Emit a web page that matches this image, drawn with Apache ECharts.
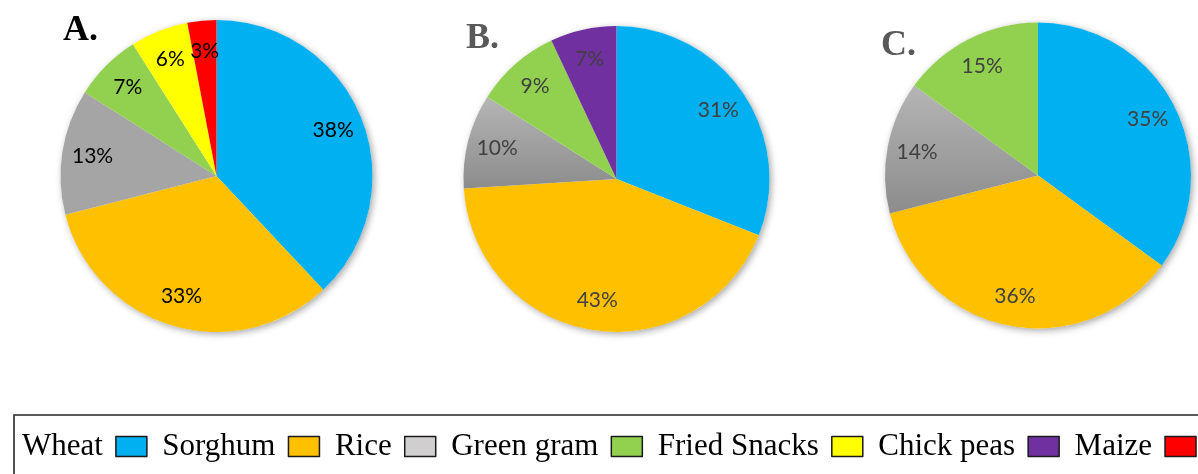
<!DOCTYPE html>
<html>
<head>
<meta charset="utf-8">
<script src="https://cdn.jsdelivr.net/npm/echarts@6/dist/echarts.min.js"></script>
<style>
  html, body { margin: 0; padding: 0; background: #ffffff; }
  #chart { width: 1198px; height: 474px; }
</style>
</head>
<body>
<div id="chart"></div>
<script>
// Legend entries and their swatch colours
const legendNames = ['Wheat', 'Sorghum', 'Rice', 'Green gram', 'Fried Snacks', 'Chick peas', 'Maize'];
const legendColors = ['#00B0F0', '#FFC000', '#D0CECE', '#92D050', '#FFFF00', '#7030A0', '#FF0000'];

// Panel A
const namesA = ['Wheat', 'Sorghum', 'Rice', 'Green gram', 'Fried Snacks', 'Maize'];
const valuesA = [38, 33, 13, 7, 6, 3];

// Panel B
const namesB = ['Wheat', 'Sorghum', 'Rice', 'Green gram', 'Chick peas'];
const valuesB = [31, 43, 10, 9, 7];

// Panel C
const namesC = ['Wheat', 'Sorghum', 'Rice', 'Green gram'];
const valuesC = [35, 36, 14, 15];

const panelTitles = ['A.', 'B.', 'C.'];

// Slice fill colours (the grey slice is a touch darker than its legend swatch)
const sliceColors = {
  'Wheat': '#00B0F0',
  'Sorghum': '#FFC000',
  'Rice': '#A5A5A5',
  'Green gram': '#92D050',
  'Fried Snacks': '#FFFF00',
  'Chick peas': '#7030A0',
  'Maize': '#FF0000'
};

const greyGradient = new echarts.graphic.LinearGradient(0, 0, 0, 1, [
  { offset: 0, color: '#B5B5B5' },
  { offset: 1, color: '#8C8C8C' }
]);

const serifFont = '"Liberation Serif", "Times New Roman", serif';
const labelFont = 'Lato, "Noto Sans", sans-serif';

function pieSeries(center, r, names, values, labelColor, shadedGrey) {
  const items = names.map((n, i) => ({
    name: n,
    value: values[i],
    itemStyle: {
      color: (n === 'Rice' && shadedGrey) ? greyGradient : sliceColors[n]
    }
  }));
  return [
    // soft drop shadow behind the whole disc
    {
      type: 'pie', silent: true, center: center, radius: r,
      startAngle: 90, clockwise: true,
      label: { show: false }, labelLine: { show: false },
      itemStyle: {
        color: '#ffffff',
        shadowBlur: 7, shadowOffsetX: 2, shadowOffsetY: 2,
        shadowColor: 'rgba(0,0,0,0.35)'
      },
      emphasis: { disabled: true },
      tooltip: { show: false },
      data: [{ value: 1, name: '' }]
    },
    // the slices
    {
      type: 'pie', center: center, radius: r,
      startAngle: 90, clockwise: true,
      label: { show: false }, labelLine: { show: false },
      itemStyle: { borderWidth: 0 },
      emphasis: { disabled: true },
      data: items
    },
    // percentage labels, placed towards the rim
    {
      type: 'pie', silent: true, center: center, radius: [r * 0.57, r],
      startAngle: 90, clockwise: true,
      itemStyle: { color: 'rgba(0,0,0,0)', borderWidth: 0 },
      label: {
        show: true, position: 'inside', formatter: '{c}%',
        fontFamily: labelFont, fontSize: 21, color: labelColor
      },
      labelLine: { show: false },
      emphasis: { disabled: true },
      data: names.map((n, i) => ({ name: n, value: values[i] }))
    }
  ];
}

const chart = echarts.init(document.getElementById('chart'), null, { renderer: 'canvas' });

chart.setOption({
  animation: false,
  backgroundColor: '#ffffff',
  title: [
    { text: panelTitles[0], left: 63, top: 13, padding: 0,
      textStyle: { fontFamily: serifFont, fontWeight: 'bold', fontSize: 36, color: '#000000' } },
    { text: panelTitles[1], left: 466, top: 21, padding: 0,
      textStyle: { fontFamily: serifFont, fontWeight: 'bold', fontSize: 36, color: '#595959' } },
    { text: panelTitles[2], left: 881, top: 28, padding: 0,
      textStyle: { fontFamily: serifFont, fontWeight: 'bold', fontSize: 36, color: '#595959' } }
  ],
  legend: {
    orient: 'horizontal',
    left: 22, top: 431, width: 1400,
    padding: 0,
    align: 'right',
    icon: 'rect',
    itemWidth: 31, itemHeight: 20, itemGap: 14.7,
    selectedMode: false,
    textStyle: {
      fontFamily: serifFont, fontSize: 31, color: '#000000',
      padding: [0, 8, 0, 0]
    },
    data: legendNames.map((n, i) => ({
      name: n,
      itemStyle: { color: legendColors[i], borderColor: '#1a1a1a', borderWidth: 1.5 }
    }))
  },
  graphic: [
    {
      type: 'rect', silent: true, z: -1,
      shape: { x: 14, y: 415, width: 1300, height: 120 },
      style: { fill: 'none', stroke: '#262626', lineWidth: 1.6 }
    }
  ],
  series: [].concat(
    pieSeries([216.5, 176], 156, namesA, valuesA, '#000000', false),
    pieSeries([616.5, 179], 153, namesB, valuesB, '#404040', true),
    pieSeries([1038, 175.5], 153, namesC, valuesC, '#404040', true)
  )
});
</script>
</body>
</html>
